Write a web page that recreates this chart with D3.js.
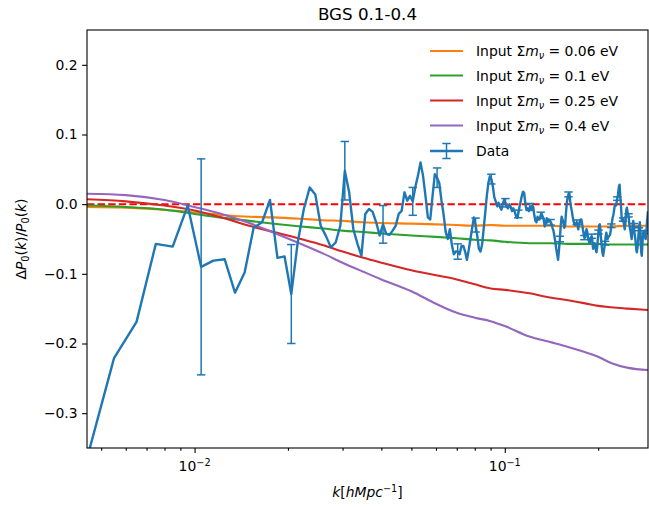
<!DOCTYPE html>
<html>
<head>
<meta charset="utf-8">
<script src="https://cdn.jsdelivr.net/npm/d3@7"></script>
<style>
  body { margin: 0; background: #fff; }
  text { font-family: "DejaVu Sans", sans-serif; fill: #000; }
</style>
</head>
<body>
<svg id="chart" width="649" height="507"></svg>
<script>
// Wavenumber bin centres, k [h/Mpc]
const kBins = [
  0.0045,0.0055,0.0065,0.0075,0.0085,0.0095,0.0105,0.0115,0.0125,0.0135,
  0.0145,0.0155,0.0165,0.0175,0.0185,0.0195,0.0205,0.0215,0.0225,0.0235,
  0.0245,0.0255,0.0265,0.0275,0.0285,0.0295,0.0305,0.0315,0.0325,0.0335,
  0.0345,0.0355,0.0365,0.0375,0.0385,0.0395,0.0405,0.0415,0.0425,0.0435,
  0.0445,0.0455,0.0465,0.0475,0.0485,0.0495,0.0505,0.0515,0.0525,0.0535,
  0.0545,0.0555,0.0565,0.0575,0.0585,0.0595,0.0605,0.0615,0.0625,0.0635,
  0.0645,0.0655,0.0665,0.0675,0.0685,0.0695,0.0705,0.0715,0.0725,0.0735,
  0.0745,0.0755,0.0765,0.0775,0.0785,0.0795,0.0805,0.0815,0.0825,0.0835,
  0.0845,0.0855,0.0865,0.0875,0.0885,0.0895,0.0905,0.0915,0.0925,0.0935,
  0.0945,0.0955,0.0965,0.0975,0.0985,0.0995,0.1005,0.1015,0.1025,0.1035,
  0.1045,0.1055,0.1065,0.1075,0.1085,0.1095,0.1105,0.1115,0.1125,0.1135,
  0.1145,0.1155,0.1165,0.1175,0.1185,0.1195,0.1205,0.1215,0.1225,0.1235,
  0.1245,0.1255,0.1265,0.1275,0.1285,0.1295,0.1305,0.1315,0.1325,0.1335,
  0.1345,0.1355,0.1365,0.1375,0.1385,0.1395,0.1405,0.1415,0.1425,0.1435,
  0.1445,0.1455,0.1465,0.1475,0.1485,0.1495,0.1505,0.1515,0.1525,0.1535,
  0.1545,0.1555,0.1565,0.1575,0.1585,0.1595,0.1605,0.1615,0.1625,0.1635,
  0.1645,0.1655,0.1665,0.1675,0.1685,0.1695,0.1705,0.1715,0.1725,0.1735,
  0.1745,0.1755,0.1765,0.1775,0.1785,0.1795,0.1805,0.1815,0.1825,0.1835,
  0.1845,0.1855,0.1865,0.1875,0.1885,0.1895,0.1905,0.1915,0.1925,0.1935,
  0.1945,0.1955,0.1965,0.1975,0.1985,0.1995,0.2005,0.2015,0.2025,0.2035,
  0.2045,0.2055,0.2065,0.2075,0.2085,0.2095,0.2105,0.2115,0.2125,0.2135,
  0.2145,0.2155,0.2165,0.2175,0.2185,0.2195,0.2205,0.2215,0.2225,0.2235,
  0.2245,0.2255,0.2265,0.2275,0.2285,0.2295,0.2305,0.2315,0.2325,0.2335,
  0.2345,0.2355,0.2365,0.2375,0.2385,0.2395,0.2405,0.2415,0.2425,0.2435,
  0.2445,0.2455,0.2465,0.2475,0.2485,0.2495,0.2505,0.2515,0.2525,0.2535,
  0.2545,0.2555,0.2565,0.2575,0.2585,0.2595,0.2605,0.2615,0.2625,0.2635,
  0.2645,0.2655,0.2665,0.2675,0.2685,0.2695,0.2705,0.2715,0.2725,0.2735,
  0.2745,0.2755,0.2765,0.2775,0.2785,0.2795,0.2805,0.2815,0.2825,0.2835,
  0.2845,0.2855,0.2865,0.2875,0.2885,0.2895
];

// Measured fractional difference dP0/P0 in each bin
const deltaP = [
  -0.365,-0.221,-0.169,-0.057,-0.061,-0.002,-0.090,-0.081,-0.079,-0.127,
  -0.098,-0.034,-0.026, 0.006,-0.077,-0.075,-0.129,-0.055,-0.007, 0.024,
   0.014,-0.031,-0.0455,-0.062,-0.055,-0.031, 0.048, 0.017,-0.036,-0.057,
  -0.074,-0.014,-0.007,-0.011,-0.026,-0.045,-0.029,-0.043,-0.044,-0.038,
  -0.031,-0.014,-0.0096,0.017, 0.005, 0.012, 0.004, 0.025, 0.041, 0.060,
   0.041, 0.012,-0.019,-0.022, 0.012, 0.043, 0.038, 0.030, 0.005,-0.015,
  -0.040,-0.050,-0.036,-0.058,-0.072,-0.068,-0.068,-0.072,-0.060,-0.060,
  -0.068,-0.080,-0.066,-0.050,-0.034,-0.019,-0.030,-0.045,-0.064,-0.068,
  -0.058,-0.035,-0.012, 0.012, 0.030, 0.040, 0.036, 0.026, 0.010, 0.004,
  -0.003, 0.002,-0.004,-0.008, 0.000, 0.006, 0.002,-0.004,-0.006, 0.000,
  -0.004,-0.010,-0.006,-0.010,-0.016,-0.020,-0.014,-0.004, 0.004, 0.012,
   0.018, 0.016, 0.000,-0.008,-0.006,-0.010,-0.004,-0.008,-0.002,-0.004,
  -0.016,-0.024,-0.026,-0.018,-0.022,-0.022,-0.016,-0.014,-0.018,-0.022,
  -0.032,-0.028,-0.020,-0.026,-0.022,-0.024,-0.026,-0.028,-0.034,-0.038,
  -0.046,-0.054,-0.064,-0.072,-0.080,-0.066,-0.050,-0.030,-0.018,-0.022,
  -0.026,-0.034,-0.030,-0.012, 0.002, 0.010, 0.014, 0.016, 0.004,-0.004,
  -0.010,-0.018,-0.024,-0.028,-0.030,-0.028,-0.026,-0.030,-0.036,-0.030,
  -0.024,-0.022,-0.022,-0.028,-0.036,-0.042,-0.048,-0.048,-0.040,-0.036,
  -0.040,-0.048,-0.052,-0.056,-0.054,-0.048,-0.046,-0.052,-0.064,-0.060,
  -0.056,-0.060,-0.066,-0.069,-0.062,-0.050,-0.040,-0.030,-0.029,-0.040,
  -0.052,-0.062,-0.070,-0.074,-0.068,-0.062,-0.056,-0.046,-0.041,-0.046,
  -0.050,-0.048,-0.046,-0.045,-0.044,-0.038,-0.031,-0.026,-0.020,-0.017,
  -0.012,-0.006, 0.000,-0.002,-0.002, 0.004, 0.008, 0.012, 0.020, 0.026,
   0.028, 0.012, 0.004,-0.012,-0.024,-0.022,-0.022,-0.026,-0.030,-0.036,
  -0.030,-0.018,-0.008,-0.005,-0.010,-0.014,-0.016,-0.024,-0.032,-0.036,
  -0.040,-0.046,-0.050,-0.040,-0.030,-0.024,-0.030,-0.038,-0.045,-0.050,
  -0.058,-0.066,-0.069,-0.064,-0.058,-0.046,-0.036,-0.030,-0.026,-0.040,
  -0.058,-0.070,-0.074,-0.060,-0.048,-0.041,-0.040,-0.038,-0.042,-0.048,
  -0.050,-0.044,-0.034,-0.024,-0.017,-0.010
];

// Error bars are shown on every 10th bin, starting at bin 6
const errorFirst = 6;
const errorEvery = 10;
const errorHalfWidth = [
  0.155, 0.071, 0.042, 0.027, 0.020, 0.014, 0.011, 0.010, 0.007, 0.006,
  0.0055,0.005, 0.0045,0.004, 0.004, 0.0035,0.0033,0.003, 0.003, 0.0028,
  0.0027,0.0026,0.0025,0.0024,0.0023,0.0022,0.0021,0.002
];

// Theory predictions for different neutrino masses
const modelK = [0.0045,0.006,0.008,0.010,0.012,0.015,0.018,0.022,0.026,0.030,
  0.035,0.040,0.050,0.060,0.070,0.080,0.090,0.100,0.120,0.140,
  0.160,0.180,0.200,0.220,0.250,0.2895];
const mnu006 = [-0.004,-0.005,-0.008,-0.012,-0.015,-0.018,-0.019,-0.021,-0.023,-0.024,
  -0.026,-0.027,-0.028,-0.029,-0.030,-0.031,-0.030,-0.031,-0.031,-0.031,
  -0.032,-0.032,-0.032,-0.032,-0.031,-0.031];
const mnu010 = [-0.002,-0.004,-0.008,-0.014,-0.019,-0.024,-0.028,-0.032,-0.035,-0.038,
  -0.040,-0.042,-0.045,-0.047,-0.049,-0.051,-0.052,-0.054,-0.056,-0.056,
  -0.057,-0.057,-0.057,-0.058,-0.058,-0.058];
const mnu025 = [0.007,0.004,-0.002,-0.009,-0.018,-0.031,-0.040,-0.050,-0.059,-0.068,
  -0.077,-0.084,-0.095,-0.102,-0.108,-0.115,-0.121,-0.123,-0.128,-0.134,
  -0.138,-0.142,-0.146,-0.148,-0.150,-0.152];
const mnu040 = [0.015,0.013,0.006,-0.004,-0.013,-0.027,-0.041,-0.057,-0.071,-0.084,
  -0.097,-0.108,-0.125,-0.143,-0.156,-0.163,-0.168,-0.175,-0.190,-0.198,
  -0.205,-0.212,-0.219,-0.228,-0.235,-0.238];

const modelMasses = ["0.06", "0.1", "0.25", "0.4"];
const modelColors = ["#ff7f0e", "#2ca02c", "#d62728", "#9467bd"];
const modelSeries = [mnu006, mnu010, mnu025, mnu040];

const yTicks = [-0.3, -0.2, -0.1, 0.0, 0.1, 0.2];
const xMajorTicks = [0.01, 0.1];
const xMajorExponents = ["\u22122", "\u22121"];
const xMinorTicks = [0.005,0.006,0.007,0.008,0.009,0.02,0.03,0.04,0.05,0.06,0.07,0.08,0.09,0.2];

const dataColor = "#1f77b4";

const svg = d3.select("#chart");
const plot = { left: 87, right: 648, top: 30, bottom: 448 };

const x = d3.scaleLog().domain([0.0045, 0.2895]).range([plot.left, plot.right]);
const y = d3.scaleLinear().domain([-0.35, 0.25]).range([plot.bottom, plot.top]);

svg.append("defs").append("clipPath").attr("id", "plotClip")
  .append("rect")
  .attr("x", plot.left).attr("y", plot.top)
  .attr("width", plot.right - plot.left).attr("height", plot.bottom - plot.top);

const g = svg.append("g").attr("clip-path", "url(#plotClip)");

// Zero reference line
g.append("line")
  .attr("x1", plot.left).attr("x2", plot.right)
  .attr("y1", y(0)).attr("y2", y(0))
  .attr("stroke", "#ff0000").attr("stroke-width", 2)
  .attr("stroke-dasharray", "7.4,3.2");

// Model curves (smooth)
const modelLine = d3.line()
  .x((d, i) => x(modelK[i])).y(d => y(d))
  .curve(d3.curveMonotoneX);
modelSeries.forEach((series, j) => {
  g.append("path").datum(series)
    .attr("d", modelLine)
    .attr("fill", "none")
    .attr("stroke", modelColors[j])
    .attr("stroke-width", 2.1);
});

// Measured data line
const dataLine = d3.line().x((d, i) => x(kBins[i])).y(d => y(d));
g.append("path").datum(deltaP)
  .attr("d", dataLine)
  .attr("fill", "none")
  .attr("stroke", dataColor)
  .attr("stroke-width", 2.4)
  .attr("stroke-linejoin", "round");

// Error bars on a subset of bins
const errG = g.append("g").attr("stroke", dataColor).attr("stroke-width", 1.5);
errorHalfWidth.forEach((e, j) => {
  const idx = errorFirst + j * errorEvery;
  const cx = x(kBins[idx]);
  const v = deltaP[idx];
  errG.append("line").attr("x1", cx).attr("x2", cx).attr("y1", y(v - e)).attr("y2", y(v + e));
  [v - e, v + e].forEach(c => {
    errG.append("line").attr("x1", cx - 4.2).attr("x2", cx + 4.2).attr("y1", y(c)).attr("y2", y(c));
  });
});

// Axes frame
svg.append("rect")
  .attr("x", plot.left).attr("y", plot.top)
  .attr("width", plot.right - plot.left).attr("height", plot.bottom - plot.top)
  .attr("fill", "none").attr("stroke", "#000").attr("stroke-width", 1.1);

// Y axis
const yAxis = d3.axisLeft(y).tickValues(yTicks).tickSize(4.9).tickPadding(4.5)
  .tickFormat(d => d3.format(".1f")(d).replace("-", "\u2212"));
const yg = svg.append("g").attr("transform", `translate(${plot.left},0)`).call(yAxis);
yg.select(".domain").remove();
yg.selectAll(".tick line").attr("stroke", "#000").attr("stroke-width", 1.1);
yg.selectAll(".tick text").attr("font-size", 13.9).attr("font-family", "DejaVu Sans");

// X axis: major ticks with power-of-ten labels, plus minor ticks
const xg = svg.append("g").attr("transform", `translate(0,${plot.bottom})`);
xg.call(d3.axisBottom(x).tickValues(xMinorTicks).tickSize(2.8).tickFormat(""))
  .select(".domain").remove();
const xMaj = svg.append("g").attr("transform", `translate(0,${plot.bottom})`);
xMaj.call(d3.axisBottom(x).tickValues(xMajorTicks).tickSize(4.9).tickFormat(""))
  .select(".domain").remove();
svg.selectAll(".tick line").attr("stroke", "#000").attr("stroke-width", 1.1);

xMajorTicks.forEach((t, i) => {
  const lbl = svg.append("text")
    .attr("x", x(t)).attr("y", 471)
    .attr("text-anchor", "middle")
    .attr("font-size", 13.9);
  lbl.append("tspan").text("10");
  lbl.append("tspan").attr("font-size", 9.7).attr("dy", -5.5).text(xMajorExponents[i]);
});

// Axis labels
const xl = svg.append("text")
  .attr("x", (plot.left + plot.right) / 2).attr("y", 497)
  .attr("text-anchor", "middle").attr("font-size", 13.9);
xl.append("tspan").attr("font-style", "italic").text("k");
xl.append("tspan").text("[");
xl.append("tspan").attr("font-style", "italic").text("hMpc");
xl.append("tspan").attr("font-size", 9.7).attr("dy", -5.5).text("\u22121");
xl.append("tspan").attr("dy", 5.5).text("]");

const yl = svg.append("text")
  .attr("transform", `translate(26,${(plot.top + plot.bottom) / 2}) rotate(-90)`)
  .attr("text-anchor", "middle").attr("font-size", 13.9);
yl.append("tspan").text("\u0394");
yl.append("tspan").attr("font-style", "italic").text("P");
yl.append("tspan").attr("font-size", 9.7).attr("dy", 3).text("0");
yl.append("tspan").attr("dy", -3).text("(");
yl.append("tspan").attr("font-style", "italic").text("k");
yl.append("tspan").text(")/");
yl.append("tspan").attr("font-style", "italic").text("P");
yl.append("tspan").attr("font-size", 9.7).attr("dy", 3).text("0");
yl.append("tspan").attr("dy", -3).text("(");
yl.append("tspan").attr("font-style", "italic").text("k");
yl.append("tspan").text(")");

// Title
svg.append("text")
  .attr("x", (plot.left + plot.right) / 2).attr("y", 20)
  .attr("text-anchor", "middle").attr("font-size", 16.7)
  .text("BGS 0.1-0.4");

// Legend
const legend = svg.append("g");
const rowY = [51, 75.5, 100.5, 125.5];
modelMasses.forEach((m, j) => {
  legend.append("line")
    .attr("x1", 430).attr("x2", 463).attr("y1", rowY[j]).attr("y2", rowY[j])
    .attr("stroke", modelColors[j]).attr("stroke-width", 2.1);
  const t = legend.append("text").attr("x", 476).attr("y", rowY[j] + 5).attr("font-size", 13.9);
  t.append("tspan").text("Input \u03a3");
  t.append("tspan").attr("font-style", "italic").text("m");
  t.append("tspan").attr("font-style", "italic").attr("font-size", 9.7).attr("dy", 3).text("\u03bd");
  t.append("tspan").attr("dy", -3).text(` = ${m} eV`);
});
const dataRow = 151;
legend.append("line").attr("x1", 430).attr("x2", 463).attr("y1", dataRow).attr("y2", dataRow)
  .attr("stroke", dataColor).attr("stroke-width", 2.4);
legend.append("line").attr("x1", 446.5).attr("x2", 446.5).attr("y1", dataRow - 7.5).attr("y2", dataRow + 7.5)
  .attr("stroke", dataColor).attr("stroke-width", 1.5);
[dataRow - 7.5, dataRow + 7.5].forEach(c => {
  legend.append("line").attr("x1", 442.3).attr("x2", 450.7).attr("y1", c).attr("y2", c)
    .attr("stroke", dataColor).attr("stroke-width", 1.5);
});
legend.append("text").attr("x", 476).attr("y", dataRow + 5).attr("font-size", 13.9).text("Data");
</script>
</body>
</html>
